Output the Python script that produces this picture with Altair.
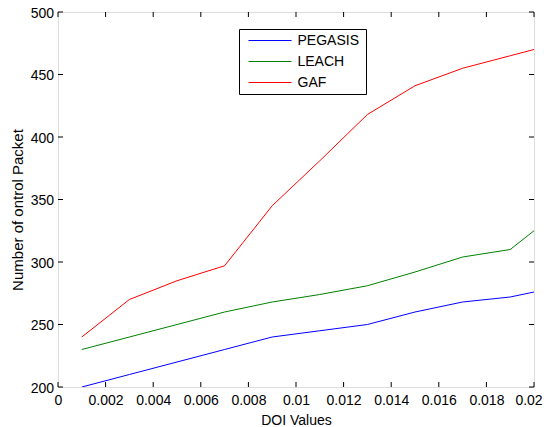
import altair as alt
import pandas as pd

doi = [0.001, 0.003, 0.005, 0.007, 0.009, 0.011, 0.013, 0.015, 0.017, 0.019, 0.02]
pegasis = [200, 210, 220, 230, 240, 245, 250, 260, 268, 272, 276]
leach = [230, 240, 250, 260, 268, 274, 281, 292, 304, 310, 325]
gaf = [240, 270, 285, 297, 345, 381, 418, 441, 455, 465, 470]
series_names = ["PEGASIS", "LEACH", "GAF"]
series_colors = ["#0000ff", "#008000", "#ff0000"]
x_ticks = [0, 0.002, 0.004, 0.006, 0.008, 0.01, 0.012, 0.014, 0.016, 0.018, 0.02]
y_ticks = [200, 250, 300, 350, 400, 450, 500]

W, H = 476, 375
FONT = "Liberation Sans"

rows = []
for name, vals in zip(series_names, [pegasis, leach, gaf]):
    for x, y in zip(doi, vals):
        rows.append({"doi": x, "val": y, "series": name})
df = pd.DataFrame(rows)

xscale = alt.Scale(domain=[0, 0.02], nice=False, zero=False)
yscale = alt.Scale(domain=[200, 500], nice=False, zero=False)

lines = alt.Chart(df).mark_line(strokeWidth=1, clip=True).encode(
    x=alt.X("doi:Q", scale=xscale,
            axis=alt.Axis(values=x_ticks, format="~g", title="DOI Values", grid=False,
                          domain=False, ticks=False, labelPadding=6.5, titlePadding=6,
                          labelOffset={"condition": {"test": "datum.value >= 0.02", "value": -5.5},
                                       "value": 0},
                          labelFontSize=14, titleFontSize=14, labelFont=FONT, titleFont=FONT,
                          labelColor="black", titleColor="black", titleFontWeight="normal",
                          labelFlush=False)),
    y=alt.Y("val:Q", scale=yscale,
            axis=alt.Axis(values=y_ticks, title="Number of ontrol Packet", grid=False,
                          domain=False, ticks=False, labelPadding=4.5, labelOffset=1,
                          labelFontSize=14, titleFontSize=15, labelFont=FONT, titleFont=FONT,
                          labelColor="black", titleColor="black", titleFontWeight="normal",
                          titleAngle=270, titleBaseline="middle", titleAlign="center",
                          titleX=-41, titleY=197.5)),
    color=alt.Color("series:N", sort=series_names,
                    scale=alt.Scale(domain=series_names, range=series_colors),
                    legend=None),
)

xt = pd.DataFrame({"t": x_ticks})
yt = pd.DataFrame({"t": y_ticks})
tick_len = 5
xb = alt.Chart(xt).mark_rule(color="black", strokeWidth=1).encode(
    x=alt.X("t:Q", scale=xscale), y=alt.value(H), y2=alt.value(H - tick_len))
xtop = alt.Chart(xt).mark_rule(color="black", strokeWidth=1).encode(
    x=alt.X("t:Q", scale=xscale), y=alt.value(0), y2=alt.value(tick_len))
yl = alt.Chart(yt).mark_rule(color="black", strokeWidth=1).encode(
    y=alt.Y("t:Q", scale=yscale), x=alt.value(0), x2=alt.value(tick_len))
yr = alt.Chart(yt).mark_rule(color="black", strokeWidth=1).encode(
    y=alt.Y("t:Q", scale=yscale), x=alt.value(W), x2=alt.value(W - tick_len))

# legend box (MATLAB style), built from the series lists
LX, LY, LW, LH = 181.5, 17.5, 127, 65
box = alt.Chart(pd.DataFrame({"k": [0]})).mark_rect(
    fill="white", stroke="black", strokeWidth=1).encode(
    x=alt.value(LX), x2=alt.value(LX + LW), y=alt.value(LY), y2=alt.value(LY + LH))
legend_layers = [box]
for i, (name, col) in enumerate(zip(series_names, series_colors)):
    yy = LY + 11 + 21 * i
    d = pd.DataFrame({"series": [name]})
    legend_layers.append(
        alt.Chart(d).mark_rule(color=col, strokeWidth=1).encode(
            x=alt.value(LX + 9), x2=alt.value(LX + 52), y=alt.value(yy)))
    legend_layers.append(
        alt.Chart(d).mark_text(align="left", baseline="middle", font=FONT, fontSize=14,
                               color="black").encode(
            x=alt.value(LX + 58), y=alt.value(yy + 0.5), text="series:N"))

chart = alt.layer(lines, xb, xtop, yl, yr, *legend_layers).properties(
    width=W, height=H,
    autosize=alt.AutoSizeParams(type="none"),
    padding={"left": 50, "top": 4, "right": 9, "bottom": 40},
).configure_view(stroke="black", strokeWidth=1).configure(background="white")

chart.save("out.html", embed_options={"renderer": "svg", "actions": False})
